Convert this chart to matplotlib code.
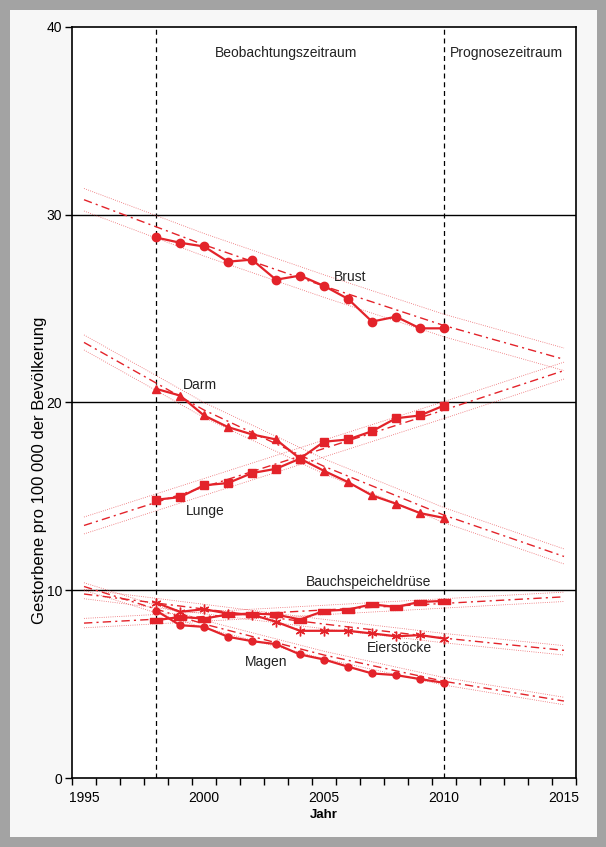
import matplotlib.pyplot as plt
from matplotlib.patches import Rectangle

plt.rcParams["font.family"] = ["Liberation Sans", "DejaVu Sans"]

RED = "#e3232a"

years = list(range(1998, 2011))
trend_years = [1995, 2000, 2005, 2010, 2015]

# observed values (1998-2010)
brust = [28.79, 28.51, 28.31, 27.50, 27.61, 26.54, 26.76, 26.21, 25.52, 24.31, 24.57, 23.95, 23.95]
darm = [20.73, 20.37, 19.31, 18.69, 18.30, 18.03, 17.01, 16.36, 15.76, 15.05, 14.61, 14.11, 13.85]
lunge = [14.82, 14.96, 15.59, 15.71, 16.24, 16.47, 17.01, 17.91, 18.03, 18.47, 19.16, 19.31, 19.84]
bauch = [8.40, 8.58, 8.49, 8.71, 8.76, 8.71, 8.44, 8.90, 8.97, 9.25, 9.11, 9.38, 9.43]
eierst = [9.34, 8.85, 8.99, 8.76, 8.70, 8.32, 7.84, 7.84, 7.84, 7.70, 7.55, 7.61, 7.43]
magen = [8.92, 8.14, 8.05, 7.52, 7.29, 7.13, 6.58, 6.31, 5.93, 5.57, 5.48, 5.27, 5.07]

# fitted trends with confidence band half-widths
brust_tr = [30.8, 28.4, 26.2, 24.1, 22.3]
darm_tr = [23.2, 19.6, 16.6, 14.0, 11.8]
lunge_tr = [13.45, 15.5, 17.55, 19.6, 21.7]
bauch_tr = [8.25, 8.6, 8.95, 9.3, 9.65]
eierst_tr = [9.8, 9.0, 8.2, 7.45, 6.8]
magen_tr = [10.2, 8.2, 6.55, 5.15, 4.1]
bands = [0.6, 0.4, 0.45, 0.25, 0.25, 0.2]

bar_marker = [(-1, -0.45), (1, -0.45), (1, 0.45), (-1, 0.45), (-1, -0.45)]

series = [
    (brust, brust_tr, "o", 6),
    (darm, darm_tr, "^", 6),
    (lunge, lunge_tr, "s", 6),
    (bauch, bauch_tr, bar_marker, 8),
    (eierst, eierst_tr, (6, 2, 0), 7),
    (magen, magen_tr, "o", 5),
]

fig = plt.figure(figsize=(6.06, 8.47), dpi=100)
fig.patch.set_facecolor("#a3a3a3")
fig.add_artist(Rectangle((10 / 606, 10 / 847), 587 / 606, 827 / 847,
                         transform=fig.transFigure, facecolor="#f7f7f7",
                         edgecolor="none", zorder=-5))
ax = fig.add_axes([72 / 606, 69 / 847, 504 / 606, 751 / 847])
ax.set_zorder(2)
ax.set_facecolor("white")

for i, (obs, tr, mk, ms) in enumerate(series):
    b = bands[i]
    ax.plot(trend_years, tr, color=RED, lw=1.0, ls=(0, (6, 3, 1.5, 3)), zorder=3)
    ax.plot(trend_years, [v + b for v in tr], color=RED, lw=0.6, ls=":", alpha=0.7, zorder=3)
    ax.plot(trend_years, [v - b for v in tr], color=RED, lw=0.6, ls=":", alpha=0.7, zorder=3)
    ax.plot(years, obs, color=RED, lw=1.6, marker=mk, ms=ms, mfc=RED, mec=RED, zorder=4)

for y in [10, 20, 30]:
    ax.axhline(y, color="black", lw=1.0, zorder=2)
for x in [1998, 2010]:
    ax.axvline(x, color="black", lw=0.9, ls=(0, (4, 3)), zorder=2)

ax.set_xlim(1994.5, 2015.5)
ax.set_ylim(0, 40)
ax.set_yticks([0, 10, 20, 30, 40])
ax.set_xticks([1995, 2000, 2005, 2010, 2015])
ax.set_xticks([y + 0.5 for y in range(1994, 2016)], minor=True)
ax.tick_params(axis="x", which="major", length=0, labelsize=10, pad=9)
ax.tick_params(axis="x", which="minor", length=5, width=1, direction="out")
ax.tick_params(axis="y", length=5, width=1, direction="out", labelsize=10, pad=2)
for s in ax.spines.values():
    s.set_linewidth(1.2)

ax.set_xlabel("Jahr", fontsize=9.5, fontweight="bold", labelpad=3)
fig.text(40 / 606, 1 - 470 / 847, "Gestorbene pro 100 000 der Bevölkerung",
         rotation=90, ha="center", va="center", fontsize=12)

ax.text(2003.4, 38.6, "Beobachtungszeitraum", ha="center", va="center", fontsize=10, color="#222222")
ax.text(2010.25, 38.6, "Prognosezeitraum", ha="left", va="center", fontsize=10, color="#222222")

ax.text(2005.4, 26.7, "Brust", fontsize=10, va="center", color="#222222", zorder=5)
ax.text(1999.1, 20.95, "Darm", fontsize=10, va="center", color="#222222", zorder=5)
ax.text(1999.25, 14.2, "Lunge", fontsize=10, va="center", color="#222222", zorder=5)
ax.text(2004.25, 10.45, "Bauchspeicheldrüse", fontsize=10, va="center", color="#222222", zorder=5)
ax.text(2006.8, 6.9, "Eierstöcke", fontsize=10, va="center", color="#222222", zorder=5)
ax.text(2001.7, 6.17, "Magen", fontsize=10, va="center", color="#222222", zorder=5)

fig.savefig("out.png", dpi=100, facecolor=fig.get_facecolor())
